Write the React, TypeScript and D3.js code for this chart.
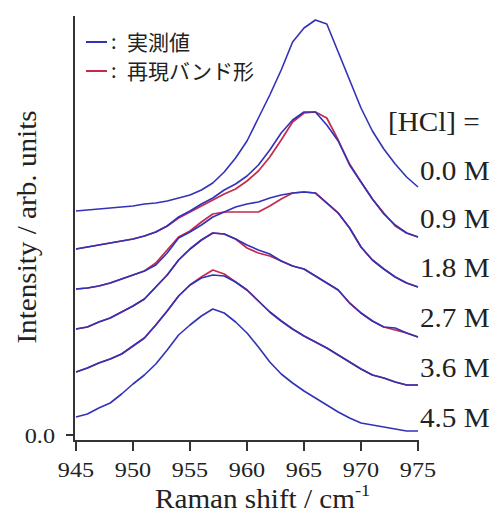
import React from "react";
import * as d3 from "d3";

const wavenumbers = [945, 946, 947, 948, 949, 950, 951, 952, 953, 954, 955, 956, 957, 958, 959, 960, 961, 962, 963, 964, 965, 966, 967, 968, 969, 970, 971, 972, 973, 974, 975];
const xTicks = [945, 950, 955, 960, 965, 970, 975];
const yTicks = [0];
const concLabels = ["0.0 M", "0.9 M", "1.8 M", "2.7 M", "3.6 M", "4.5 M"];
const legendLabels = ["実測値", "再現バンド形"];

// measured (blue) spectra, with vertical offsets as plotted
const meas00 = [2.24, 2.25, 2.26, 2.27, 2.28, 2.29, 2.31, 2.32, 2.34, 2.37, 2.40, 2.45, 2.52, 2.63, 2.77, 2.94, 3.17, 3.40, 3.65, 3.93, 4.07, 4.15, 4.11, 3.83, 3.55, 3.27, 3.04, 2.86, 2.71, 2.58, 2.48];
const meas09 = [1.86, 1.88, 1.90, 1.92, 1.94, 1.96, 1.99, 2.03, 2.09, 2.18, 2.24, 2.31, 2.37, 2.45, 2.51, 2.59, 2.70, 2.85, 3.02, 3.15, 3.23, 3.23, 3.10, 2.94, 2.70, 2.53, 2.36, 2.21, 2.10, 2.02, 1.98];
const meas18 = [1.46, 1.47, 1.49, 1.52, 1.56, 1.60, 1.64, 1.70, 1.82, 1.97, 2.03, 2.10, 2.18, 2.23, 2.28, 2.31, 2.33, 2.37, 2.40, 2.42, 2.43, 2.42, 2.32, 2.22, 2.07, 1.88, 1.75, 1.66, 1.58, 1.52, 1.48];
const meas27 = [1.06, 1.08, 1.13, 1.17, 1.23, 1.29, 1.36, 1.48, 1.60, 1.75, 1.86, 1.95, 2.02, 2.01, 1.96, 1.90, 1.85, 1.81, 1.74, 1.69, 1.66, 1.59, 1.52, 1.45, 1.32, 1.22, 1.14, 1.08, 1.07, 1.02, 0.98];
const meas36 = [0.63, 0.67, 0.72, 0.76, 0.81, 0.89, 0.97, 1.10, 1.24, 1.39, 1.50, 1.57, 1.60, 1.59, 1.53, 1.45, 1.34, 1.23, 1.14, 1.06, 0.99, 0.93, 0.87, 0.80, 0.73, 0.66, 0.60, 0.57, 0.53, 0.50, 0.50];
const meas45 = [0.18, 0.21, 0.27, 0.32, 0.41, 0.51, 0.60, 0.71, 0.85, 1.00, 1.10, 1.19, 1.26, 1.22, 1.13, 1.02, 0.88, 0.73, 0.61, 0.52, 0.44, 0.37, 0.30, 0.23, 0.17, 0.12, 0.10, 0.08, 0.06, 0.04, 0.04];

// reproduced band shapes (red)
const fit09 = [1.86, 1.88, 1.90, 1.92, 1.94, 1.96, 1.99, 2.03, 2.09, 2.17, 2.23, 2.29, 2.35, 2.41, 2.46, 2.54, 2.64, 2.78, 2.95, 3.13, 3.22, 3.23, 3.17, 2.95, 2.71, 2.53, 2.36, 2.22, 2.09, 2.02, 1.98];
const fit18 = [1.46, 1.47, 1.49, 1.52, 1.56, 1.60, 1.64, 1.72, 1.85, 1.98, 2.04, 2.13, 2.21, 2.23, 2.23, 2.23, 2.23, 2.29, 2.36, 2.42, 2.43, 2.42, 2.32, 2.22, 2.07, 1.88, 1.75, 1.66, 1.58, 1.52, 1.48];
const fit27 = [1.06, 1.08, 1.13, 1.17, 1.23, 1.29, 1.36, 1.48, 1.60, 1.75, 1.86, 1.95, 2.02, 2.01, 1.96, 1.87, 1.82, 1.79, 1.74, 1.69, 1.66, 1.59, 1.52, 1.45, 1.32, 1.22, 1.14, 1.08, 1.05, 1.02, 0.98];
const fit36 = [0.63, 0.67, 0.72, 0.76, 0.81, 0.89, 0.97, 1.10, 1.24, 1.39, 1.50, 1.58, 1.65, 1.61, 1.53, 1.45, 1.34, 1.23, 1.14, 1.06, 0.99, 0.93, 0.87, 0.80, 0.73, 0.66, 0.60, 0.57, 0.53, 0.50, 0.50];

const measuredSeries = [meas00, meas09, meas18, meas27, meas36, meas45];
const fitSeries = [fit09, fit18, fit27, fit36];

const BLUE = "#3232b8";
const RED = "#c42a4c";
const AXIS = "#333";
const SERIF = "'Liberation Serif', 'Times New Roman', serif";
const CJK = "'Noto Sans CJK JP', 'Noto Sans', sans-serif";

export default function App() {
  const x = d3.scaleLinear().domain([945, 975]).range([76, 418]);
  const y = d3.scaleLinear().domain([0, 4.2]).range([435, 15]);
  const line = (vals: number[]) =>
    d3.line<number>().x((_, i) => x(wavenumbers[i])).y((v) => y(v))(vals) || "";

  const axisY = 441;
  const labelYs = [180, 228, 277, 327, 377, 427];
  const legendYs = [42, 71];
  const legendColors = [BLUE, RED];

  return (
    <svg width={495} height={513} style={{ position: "absolute", left: 0, top: 0, background: "#fff" }}>
      <rect width={495} height={513} fill="#fff" />
      {/* fitted (red) first, measured (blue) on top */}
      {fitSeries.map((s, i) => (
        <path key={"f" + i} d={line(s)} fill="none" stroke={RED} strokeWidth={1.7} strokeLinejoin="round" />
      ))}
      {measuredSeries.map((s, i) => (
        <path key={"m" + i} d={line(s)} fill="none" stroke={BLUE} strokeWidth={1.6} strokeLinejoin="round" />
      ))}

      {/* axes */}
      <line x1={74} x2={74} y1={16} y2={axisY + 1} stroke={AXIS} strokeWidth={2} />
      <line x1={73} x2={x(975) + 1} y1={axisY} y2={axisY} stroke={AXIS} strokeWidth={2} />
      {xTicks.map((t) => (
        <g key={t}>
          <line x1={x(t)} x2={x(t)} y1={axisY} y2={axisY + 10} stroke={AXIS} strokeWidth={2} />
          <text
            transform={`translate(${x(t)},477) scale(1.1,1)`}
            textAnchor="middle"
            fontFamily={SERIF}
            fontSize={22}
            fill="#222"
          >
            {t}
          </text>
        </g>
      ))}
      {yTicks.map((t) => (
        <g key={"y" + t}>
          <line x1={66} x2={74} y1={y(t)} y2={y(t)} stroke={AXIS} strokeWidth={2} />
          <text
            transform={`translate(55,${y(t) + 8}) scale(1.1,1)`}
            textAnchor="end"
            fontFamily={SERIF}
            fontSize={22}
            fill="#222"
          >
            {d3.format(".1f")(t)}
          </text>
        </g>
      ))}

      {/* axis titles */}
      <text transform="translate(155,508) scale(1.08,1)" fontFamily={SERIF} fontSize={27} fill="#222">
        Raman shift / cm
        <tspan fontSize={17} dy={-12}>-1</tspan>
      </text>
      <text
        transform="translate(36,227) rotate(-90) scale(1.08,1)"
        textAnchor="middle"
        fontFamily={SERIF}
        fontSize={27}
        fill="#222"
      >
        Intensity / arb. units
      </text>

      {/* legend */}
      {legendLabels.map((lab, i) => (
        <g key={lab}>
          <line x1={86} x2={107} y1={legendYs[i]} y2={legendYs[i]} stroke={legendColors[i]} strokeWidth={2} />
          <text x={111} y={legendYs[i] + 7} fontFamily={CJK} fontSize={20} fill="#222">
            :
          </text>
          <text x={127} y={legendYs[i] + 8} fontFamily={CJK} fontSize={21} fill="#222">
            {lab}
          </text>
        </g>
      ))}

      {/* concentration labels */}
      <text transform="translate(388,131) scale(1.08,1)" fontFamily={SERIF} fontSize={27} fill="#222">
        [HCl] =
      </text>
      {concLabels.map((c, i) => (
        <text
          key={c}
          transform={`translate(420,${labelYs[i]}) scale(1.08,1)`}
          fontFamily={SERIF}
          fontSize={27}
          fill="#222"
        >
          {c}
        </text>
      ))}
    </svg>
  );
}
